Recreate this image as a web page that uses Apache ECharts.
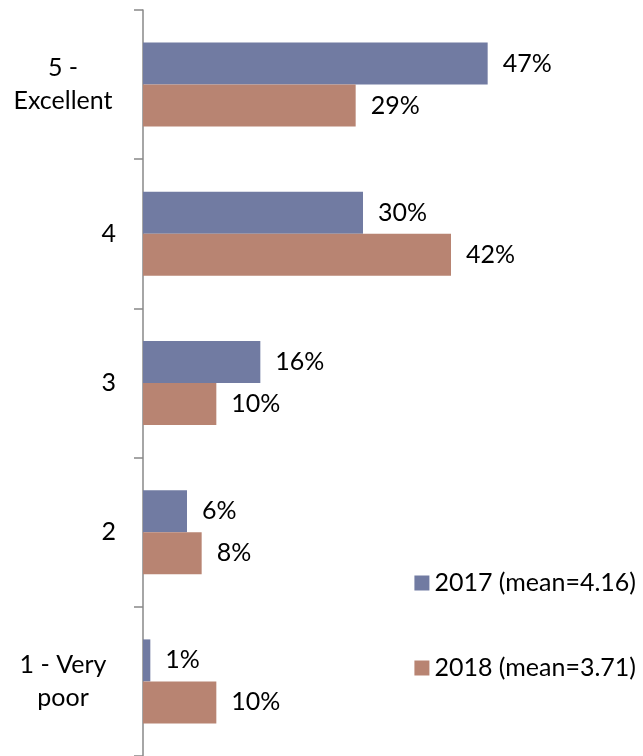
<!DOCTYPE html>
<html>
<head>
<meta charset="utf-8">
<title>Rating 2017 vs 2018</title>
<script src="https://cdn.jsdelivr.net/npm/echarts@6/dist/echarts.min.js"></script>
<style>
  html, body { margin: 0; padding: 0; background: #fff; }
  #chart { width: 643px; height: 756px; }
</style>
</head>
<body>
<div id="chart"></div>
<script>
// categories top to bottom
const categories = ['5 -\nExcellent', '4', '3', '2', '1 - Very\npoor']
const values2017 = [47, 30, 16, 6, 1]
const values2018 = [29, 42, 10, 8, 10]
const seriesNames = ['2017 (mean=4.16)', '2018 (mean=3.71)']

const FONT = 'Lato, "Open Sans", sans-serif'
const FS = 25

const chart = echarts.init(document.getElementById('chart'))

// multi-line labels are centered line by line, block sits right-aligned
const labelFormatter = (val) => {
  if (val.indexOf('\n') < 0) return val
  return val.split('\n').map(l => '{c|' + l + '}').join('\n')
}

const barLabel = {
  show: true,
  position: 'right',
  distance: 15,
  formatter: '{c}%',
  color: '#000',
  fontFamily: FONT,
  fontSize: FS
}

chart.setOption({
  animation: false,
  grid: { left: 143, right: 60, top: 10, bottom: 0 },
  legend: {
    orient: 'vertical',
    right: 2,
    top: 565,
    itemWidth: 15,
    itemHeight: 15,
    itemGap: 59,
    icon: 'rect',
    textStyle: { fontFamily: FONT, fontSize: FS, color: '#000', lineHeight: 26 },
    data: seriesNames
  },
  xAxis: {
    type: 'value',
    min: 0,
    max: 60,
    show: false
  },
  yAxis: {
    type: 'category',
    inverse: true,
    data: categories,
    axisLine: { lineStyle: { color: '#888', width: 1.5 } },
    axisTick: { show: true, length: 9, lineStyle: { color: '#888', width: 1.5 } },
    axisLabel: {
      margin: 27,
      color: '#000',
      fontFamily: FONT,
      fontSize: FS,
      lineHeight: 33,
      formatter: labelFormatter,
      rich: {
        c: { width: 106, align: 'center', fontFamily: FONT, fontSize: FS, lineHeight: 33, color: '#000' }
      }
    }
  },
  series: [
    {
      name: seriesNames[0],
      type: 'bar',
      data: values2017,
      barWidth: 42,
      barGap: '0%',
      itemStyle: { color: '#717BA2' },
      label: barLabel
    },
    {
      name: seriesNames[1],
      type: 'bar',
      data: values2018,
      barWidth: 42,
      itemStyle: { color: '#B88472' },
      label: barLabel
    }
  ]
})
</script>
</body>
</html>
